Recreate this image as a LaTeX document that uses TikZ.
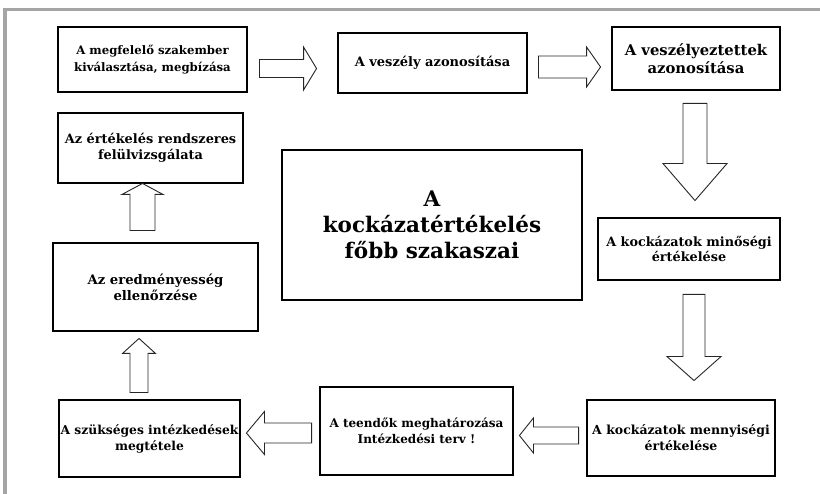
\documentclass[tikz,border=0pt]{standalone}
\usepackage{fontspec}
\setmainfont{DejaVu Serif}
\usetikzlibrary{calc}
\usetikzlibrary{positioning}

% block arrow between two points: start, end, shaft half, head half, head length
\newcommand{\fatarrow}[5]{%
  \coordinate (fa_s) at #1;
  \coordinate (fa_t) at #2;
  \coordinate (fa_h) at ($(fa_t)!#5pt!(fa_s)$);
  \draw[fat] ($(fa_s)!#3pt!90:(fa_t)$) -- ($(fa_h)!#3pt!90:(fa_t)$) -- ($(fa_h)!#4pt!90:(fa_t)$) -- (fa_t)
    -- ($(fa_h)!#4pt!-90:(fa_t)$) -- ($(fa_h)!#3pt!-90:(fa_t)$) -- ($(fa_s)!#3pt!-90:(fa_t)$) -- cycle;
}

\begin{document}
\begin{tikzpicture}[x=1pt, y=-1pt,
    box/.style={draw=black, line width=2.9pt, align=center, inner sep=1pt, fill=white},
    txt/.style 2 args={font=\bfseries\fontsize{#1}{#2}\selectfont},
    fat/.style={draw=black!85, line width=0.9pt, fill=white, line join=miter}]
        % Colors
        \definecolor{framegray}{RGB}{165,165,165}

        \useasboundingbox (0,0) rectangle (820,494);
        \draw[framegray, line width=3.5pt] (5,494) -- (5,9.5) -- (820,9.5);

        \node[box, txt={11.7}{16.5}, minimum width=189, minimum height=65] (szakember) at (152.5,59.5) {A megfelelő szakember\\kiválasztása, megbízása};
        \node[box, txt={13}{17}, minimum width=189, minimum height=60] (veszely_az) at (432.5,63) {A veszély azonosítása};
        \node[box, txt={14.8}{18}, minimum width=168, minimum height=63] (veszelyeztetett) at (696,58.5) {A veszélyeztettek\\azonosítása};
        \node[box, txt={12.8}{14.5}, minimum width=182, minimum height=62] (min_ert) at (689,249) {A kockázatok minőségi\\értékelése};
        \node[box, txt={12.5}{16}, minimum width=188, minimum height=76] (menny_ert) at (681,438) {A kockázatok mennyiségi\\értékelése};
        \node[box, txt={12}{15.5}, minimum width=193, minimum height=88] (teendok) at (416.5,431) {A teendők meghatározása\\Intézkedési terv !};
        \node[box, txt={12.3}{16}, minimum width=181, minimum height=77] (intezk) at (149.5,438.5) {A szükséges intézkedések\\megtétele};
        \node[box, txt={13.2}{16}, minimum width=205, minimum height=88] (eredm) at (155.5,287) {Az eredményesség\\ellenőrzése};
        \node[box, txt={12.9}{16.5}, minimum width=185, minimum height=70] (felulv) at (150.5,148) {Az értékelés rendszeres\\felülvizsgálata};

        \node[box, txt={21.5}{26}, minimum width=300, minimum height=150] (cim) at (432,225) {A\\kockázatértékelés\\főbb szakaszai};

        % block arrows
        \fatarrow{($(szakember.east)+(11,9)$)}{($(veszely_az.west)+(-20,5.5)$)}{9}{21.5}{13}
        \fatarrow{($(veszely_az.east)+(10,4)$)}{($(veszelyeztetett.west)+(-10,8.5)$)}{11}{20}{14}
        \fatarrow{($(veszelyeztetett.south)+(-1,12)$)}{($(min_ert.north)+(6,-16)$)}{12}{32}{37}
        \fatarrow{($(min_ert.south)+(5,13)$)}{($(menny_ert.north)+(13,-18)$)}{11}{27}{24}
        \fatarrow{($(menny_ert.west)+(-7,-2.5)$)}{($(teendok.east)+(5,4.5)$)}{8.5}{17.5}{14}
        \fatarrow{($(teendok.west)+(-7,2)$)}{($(intezk.east)+(5,-5.5)$)}{10}{21.5}{18}
        \fatarrow{($(intezk.north)+(-10.5,-6)$)}{($(eredm.south)+(-16.5,6)$)}{9}{16.5}{15}
        \fatarrow{($(eredm.north)+(-13,-11)$)}{($(felulv.south)+(-8,-1)$)}{12.5}{20.5}{11}
      \end{tikzpicture}
\end{document}
